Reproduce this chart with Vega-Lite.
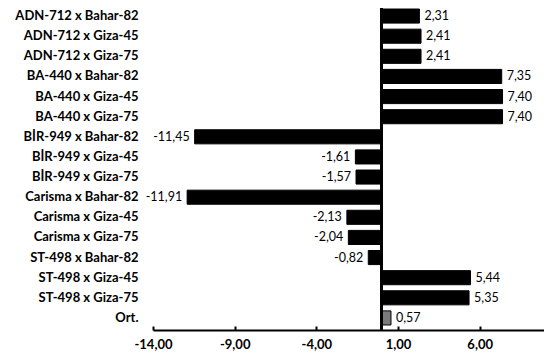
{
  "$schema": "https://vega.github.io/schema/vega-lite/v6.json",
  "width": 392,
  "height": 326,
  "autosize": {"type": "none"},
  "padding": {"left": 153, "top": 4, "right": 0, "bottom": 30},
  "background": "white",
  "config": {
    "view": {"stroke": null},
    "locale": {"number": {"decimal": ",", "thousands": ".", "grouping": [3], "currency": ["", ""], "minus": "-"}},
    "font": "Lato"
  },
  "data": {
    "values": [
      {"cross": "ADN-712 x Bahar-82", "value": 2.31, "kind": "cross"},
      {"cross": "ADN-712 x Giza-45", "value": 2.41, "kind": "cross"},
      {"cross": "ADN-712 x Giza-75", "value": 2.41, "kind": "cross"},
      {"cross": "BA-440 x Bahar-82", "value": 7.35, "kind": "cross"},
      {"cross": "BA-440 x Giza-45", "value": 7.40, "kind": "cross"},
      {"cross": "BA-440 x Giza-75", "value": 7.40, "kind": "cross"},
      {"cross": "BİR-949 x Bahar-82", "value": -11.45, "kind": "cross"},
      {"cross": "BİR-949 x Giza-45", "value": -1.61, "kind": "cross"},
      {"cross": "BİR-949 x Giza-75", "value": -1.57, "kind": "cross"},
      {"cross": "Carisma x Bahar-82", "value": -11.91, "kind": "cross"},
      {"cross": "Carisma x Giza-45", "value": -2.13, "kind": "cross"},
      {"cross": "Carisma x Giza-75", "value": -2.04, "kind": "cross"},
      {"cross": "ST-498 x Bahar-82", "value": -0.82, "kind": "cross"},
      {"cross": "ST-498 x Giza-45", "value": 5.44, "kind": "cross"},
      {"cross": "ST-498 x Giza-75", "value": 5.35, "kind": "cross"},
      {"cross": "Ort.", "value": 0.57, "kind": "mean"}
    ]
  },
  "encoding": {
    "y": {
      "field": "cross",
      "type": "nominal",
      "sort": null,
      "scale": {"paddingInner": 0.3, "paddingOuter": 0.25},
      "axis": {
        "title": null,
        "domain": false,
        "ticks": false,
        "labelPadding": 15,
        "labelFont": "Lato",
        "labelFontWeight": "bold",
        "labelFontSize": 13,
        "labelColor": "black"
      }
    }
  },
  "layer": [
    {
      "mark": {"type": "bar", "stroke": "black", "strokeWidth": 1},
      "encoding": {
        "x": {
          "field": "value",
          "type": "quantitative",
          "scale": {"domain": [-14, 10], "nice": false, "zero": false},
          "axis": {
            "title": null,
            "values": [-14, -9, -4, 1, 6],
            "format": ".2f",
            "grid": false,
            "labelFlush": false,
            "domainColor": "black",
            "domainWidth": 2,
            "tickColor": "black",
            "tickWidth": 2,
            "tickSize": -4,
            "labelPadding": 12,
            "labelFont": "Lato",
            "labelFontWeight": "bold",
            "labelFontSize": 13,
            "labelColor": "black"
          }
        },
        "fill": {
          "field": "kind",
          "type": "nominal",
          "scale": {"domain": ["cross", "mean"], "range": ["black", "#7a7a7a"]},
          "legend": null
        }
      }
    },
    {
      "mark": {"type": "rule", "color": "black", "strokeWidth": 2},
      "encoding": {"x": {"datum": 0}, "y": {"value": 4}, "y2": {"value": 326}}
    },
    {
      "transform": [{"filter": "datum.value >= 0"}],
      "mark": {"type": "text", "align": "left", "dx": 5, "fontSize": 12.5, "font": "Lato", "color": "black"},
      "encoding": {
        "x": {"field": "value", "type": "quantitative"},
        "text": {"field": "value", "type": "quantitative", "format": ".2f"}
      }
    },
    {
      "transform": [{"filter": "datum.value < 0"}],
      "mark": {"type": "text", "align": "right", "dx": -5, "fontSize": 12.5, "font": "Lato", "color": "black"},
      "encoding": {
        "x": {"field": "value", "type": "quantitative"},
        "text": {"field": "value", "type": "quantitative", "format": ".2f"}
      }
    }
  ]
}
